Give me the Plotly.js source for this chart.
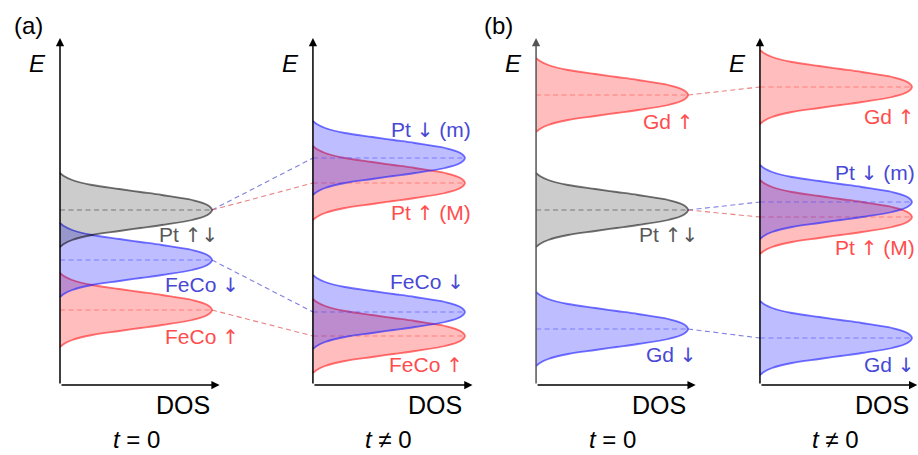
<!DOCTYPE html>
<html><head><meta charset="utf-8">
<script src="https://cdn.plot.ly/plotly-3.0.1.min.js"></script>
<style>html,body{margin:0;padding:0;background:#fff}#chart{width:918px;height:455px}</style>
</head><body><div id="chart"></div>
<script>
// ---------------- data ----------------
const PANEL_TITLES = ['<i>t</i> = 0', '<i>t</i> \u2260 0', '<i>t</i> = 0', '<i>t</i> \u2260 0'];
const GROUP_LABELS = ['(a)', '(b)'];
const AXIS_E_LABEL = '<i>E</i>';
const AXIS_DOS_LABEL = 'DOS';

// panel (a), t = 0
const names_a0 = ['FeCo \u2191', 'FeCo \u2193', 'Pt \u2191\u2193'];
const energy_a0 = [1.5, 2.5, 3.5];
const dos_a0 = [1.0, 1.0, 1.0];
const spin_a0 = ['up', 'down', 'both'];
// panel (a), t != 0
const names_a1 = ['Pt \u2191 (M)', 'Pt \u2193 (m)', 'FeCo \u2191', 'FeCo \u2193'];
const energy_a1 = [4.04, 4.54, 0.98, 1.46];
const dos_a1 = [1.0, 1.0, 1.0, 1.0];
const spin_a1 = ['up', 'down', 'up', 'down'];
// panel (b), t = 0
const names_b0 = ['Gd \u2191', 'Pt \u2191\u2193', 'Gd \u2193'];
const energy_b0 = [5.8, 3.5, 1.12];
const dos_b0 = [1.0, 1.0, 1.0];
const spin_b0 = ['up', 'both', 'down'];
// panel (b), t != 0
const names_b1 = ['Gd \u2191', 'Pt \u2191 (M)', 'Pt \u2193 (m)', 'Gd \u2193'];
const energy_b1 = [5.96, 3.36, 3.66, 0.94];
const dos_b1 = [1.0, 1.0, 1.0, 1.0];
const spin_b1 = ['up', 'up', 'down', 'down'];

// level shifts between t = 0 and t != 0 (from -> to)
const links_a = [['Pt \u2191\u2193', 'Pt \u2193 (m)'], ['Pt \u2191\u2193', 'Pt \u2191 (M)'], ['FeCo \u2193', 'FeCo \u2193'], ['FeCo \u2191', 'FeCo \u2191']];
const links_b = [['Gd \u2191', 'Gd \u2191'], ['Pt \u2191\u2193', 'Pt \u2193 (m)'], ['Pt \u2191\u2193', 'Pt \u2191 (M)'], ['Gd \u2193', 'Gd \u2193']];

// peak profile: distance from centre (E units) -> relative DOS
const profile_dE = [0, 0.1, 0.2, 0.3, 0.36, 0.42, 0.5, 0.6, 0.68, 0.74];
const profile_dos = [1, 0.97, 0.87, 0.67, 0.53, 0.39, 0.21, 0.08, 0.025, 0];

// ---------------- layout constants ----------------
const PANEL_X0 = [0, 1.664, 3.132, 4.605];
const AXIS_TOP = 6.94, AXIS_RIGHT = 1.05;
const LABEL_POS = [
  [[1.19, 0.96], [1.19, 2.0], [1.05, 3.0]],
  [[1.05, 3.44], [1.05, 5.1], [1.0, 0.4], [1.01, 2.06]],
  [[1.05, 5.26], [1.08, 3.0], [1.07, 0.6]],
  [[1.03, 5.36], [1.035, 2.74], [1.035, 4.24], [1.03, 0.4]]
];
const STYLE = {
  up:   {line: 'rgba(255,40,40,0.65)', fill: 'rgba(255,0,0,0.26)', dash: 'rgba(255,70,70,0.55)', text: '#ff4d4d', link: 'rgba(225,80,80,0.72)'},
  down: {line: 'rgba(40,40,255,0.65)', fill: 'rgba(0,0,255,0.26)', dash: 'rgba(70,70,255,0.55)', text: '#4848d4', link: 'rgba(80,80,215,0.72)'},
  both: {line: 'rgba(0,0,0,0.55)', fill: 'rgba(0,0,0,0.2)', dash: 'rgba(0,0,0,0.42)', text: '#595959', link: 'rgba(0,0,0,0.5)'}
};
const FONT = 'Liberation Sans, Arial, sans-serif';
const ARROW_FONT = 'DejaVu Sans';

function fmtLabel(s) {
  return s.replace(/([\u2191\u2193]+)/g, '<span style="font-family:\'' + ARROW_FONT + '\';font-size:20px">$1</span>');
}

const panels = [
  {names: names_a0, E: energy_a0, dos: dos_a0, spin: spin_a0},
  {names: names_a1, E: energy_a1, dos: dos_a1, spin: spin_a1},
  {names: names_b0, E: energy_b0, dos: dos_b0, spin: spin_b0},
  {names: names_b1, E: energy_b1, dos: dos_b1, spin: spin_b1}
];

const traces = [];
const annotations = [];

function addLinks(links, pFrom, pTo) {
  const A = panels[pFrom], B = panels[pTo];
  links.forEach(([from, to]) => {
    const i = A.names.indexOf(from), j = B.names.indexOf(to);
    traces.push({
      x: [PANEL_X0[pFrom] + A.dos[i], PANEL_X0[pTo]],
      y: [A.E[i], B.E[j]],
      mode: 'lines', hoverinfo: 'skip',
      line: {color: STYLE[B.spin[j]].link, width: 1.1, dash: '5px,3.5px'}
    });
  });
}
addLinks(links_a, 0, 1);
addLinks(links_b, 2, 3);

panels.forEach((P, k) => {
  const x0 = PANEL_X0[k];
  P.names.forEach((nm, i) => {
    const st = STYLE[P.spin[i]];
    const xs = [], ys = [];
    for (let n = profile_dE.length - 1; n >= 0; n--) { xs.push(x0 + P.dos[i] * profile_dos[n]); ys.push(P.E[i] + profile_dE[n]); }
    for (let n = 1; n < profile_dE.length; n++) { xs.push(x0 + P.dos[i] * profile_dos[n]); ys.push(P.E[i] - profile_dE[n]); }
    traces.push({
      x: xs, y: ys, mode: 'lines', fill: 'toself', fillcolor: st.fill, hoverinfo: 'skip',
      line: {color: st.line, width: 1.8, shape: 'spline', smoothing: 1}
    });
    traces.push({
      x: [x0, x0 + P.dos[i] * 0.99], y: [P.E[i], P.E[i]], mode: 'lines', hoverinfo: 'skip',
      line: {color: st.dash, width: 1, dash: '5px,3.5px'}
    });
    annotations.push({
      x: x0 + LABEL_POS[k][i][0], y: LABEL_POS[k][i][1], xref: 'x', yref: 'y',
      text: fmtLabel(nm), showarrow: false, xanchor: 'right', yanchor: 'middle',
      font: {family: FONT, size: 21, color: st.text}
    });
  });
  const axColor = k === 2 ? '#555' : '#000';
  annotations.push({x: x0, y: AXIS_TOP, ax: x0, ay: 0, xref: 'x', yref: 'y', axref: 'x', ayref: 'y',
    text: '', showarrow: true, arrowhead: 2, arrowsize: 1.1, arrowwidth: 1.5, arrowcolor: axColor, standoff: 0});
  annotations.push({x: Math.min(x0 + AXIS_RIGHT, 5.64), y: 0, ax: x0, ay: 0, xref: 'x', yref: 'y', axref: 'x', ayref: 'y',
    text: '', showarrow: true, arrowhead: 2, arrowsize: 1.1, arrowwidth: 1.5, arrowcolor: '#000', standoff: 0});
  annotations.push({x: x0 - 0.15, y: 6.44, xref: 'x', yref: 'y', text: AXIS_E_LABEL, showarrow: false,
    font: {family: FONT, size: 24, color: '#000'}});
  annotations.push({x: x0 + 0.806, y: -0.4, xref: 'x', yref: 'y', text: AXIS_DOS_LABEL, showarrow: false,
    font: {family: FONT, size: 25, color: '#000'}});
  annotations.push({x: x0 + 0.5, y: -1.385, xref: 'x', yref: 'y', text: PANEL_TITLES[k], showarrow: false,
    yanchor: 'bottom', borderpad: 0, font: {family: FONT, size: 24, color: '#000'}});
});
annotations.push({x: PANEL_X0[0] - 0.204, y: 7.2, xref: 'x', yref: 'y', text: GROUP_LABELS[0], showarrow: false,
  font: {family: FONT, size: 24, color: '#000'}});
annotations.push({x: PANEL_X0[2] - 0.247, y: 7.2, xref: 'x', yref: 'y', text: GROUP_LABELS[1], showarrow: false,
  font: {family: FONT, size: 24, color: '#000'}});

const layout = {
  width: 918, height: 455, margin: {l: 0, r: 0, t: 0, b: 0},
  paper_bgcolor: '#fff', plot_bgcolor: '#fff', showlegend: false,
  xaxis: {range: [-60 / 152, -60 / 152 + 918 / 152], visible: false, fixedrange: true},
  yaxis: {range: [-1.4, -1.4 + 455 / 50], visible: false, fixedrange: true},
  annotations: annotations
};
Plotly.newPlot('chart', traces, layout, {staticPlot: true, displayModeBar: false});
</script></body></html>
